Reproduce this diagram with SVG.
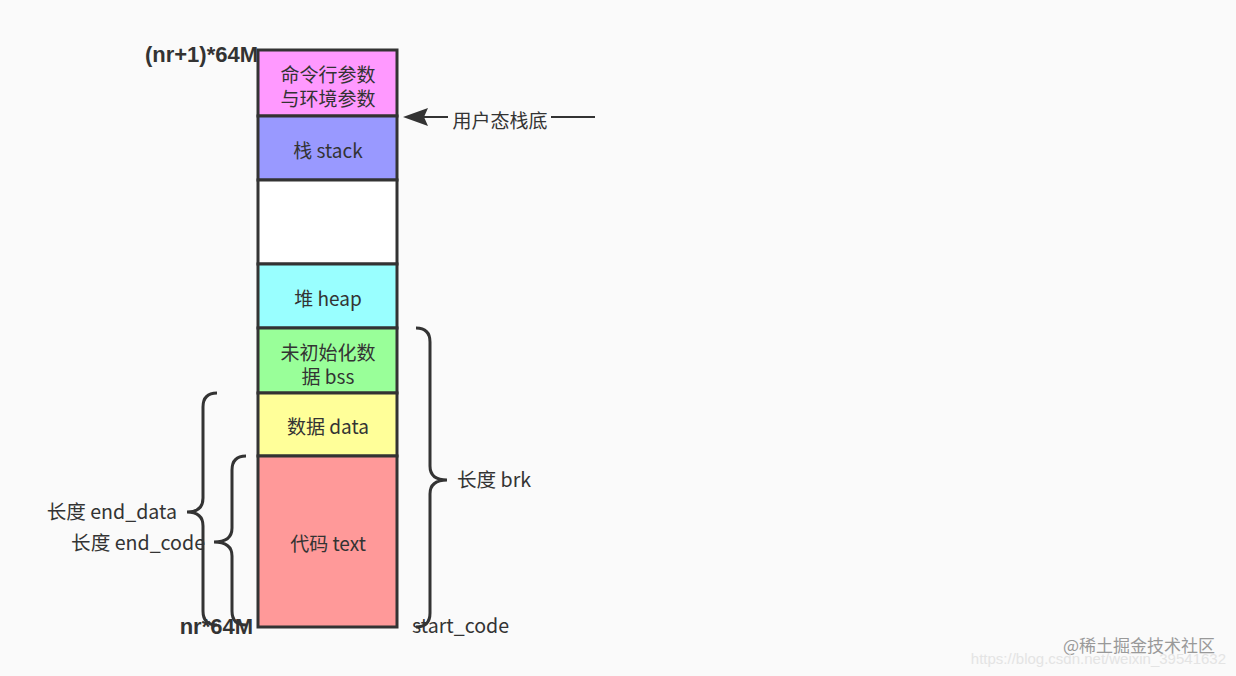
<svg xmlns="http://www.w3.org/2000/svg" width="1236" height="676" viewBox="0 0 1236 676">
<style>
.t{font-family:"Noto Sans CJK SC","Liberation Sans",sans-serif;font-size:19px;fill:#333;}
.s{font-size:19.6px;}
.c{text-anchor:middle;dominant-baseline:central;}
.b{font-family:"Liberation Sans",sans-serif;font-weight:bold;font-size:22px;fill:#333;}
.box{stroke:#333;stroke-width:3;}
.brace{fill:none;stroke:#333;stroke-width:3;}
</style>
<rect width="1236" height="676" fill="#fafafa"/>
<g id="connectors">
<line x1="595" y1="117" x2="424" y2="117" stroke="#333" stroke-width="2"/>
<path d="M403,117 L428,108 L424,117 L428,126 Z" fill="#333"/>
<rect x="448" y="106" width="103" height="24" fill="#fafafa"/>
<text class="t c" x="500" y="119">用户态栈底</text>
<path class="brace" d="M217,393 Q203,393 203,407 L203,498 Q203,512 187,512 Q203,512 203,526 L203,611 Q203,625 217,625"/>
<path class="brace" d="M246,456 Q232,456 232,470 L232,528 Q232,542 214,542 Q232,542 232,556 L232,611 Q232,625 246,625"/>
<path class="brace" d="M416,328 Q430,328 430,342 L430,466 Q430,480 447,480 Q430,480 430,494 L430,613 Q430,627 416,627"/>
</g>
<g id="n-args"><rect class="box" x="258" y="50" width="139" height="66" fill="#ff99ff"/><text class="t c" x="328" y="73">命令行参数</text><text class="t c" x="328" y="97">与环境参数</text></g>
<g id="n-stack"><rect class="box" x="258" y="116" width="139" height="64" fill="#9999ff"/><text class="t c" x="328" y="149">栈 stack</text></g>
<g id="n-free"><rect class="box" x="258" y="180" width="139" height="84" fill="#ffffff"/></g>
<g id="n-heap"><rect class="box" x="258" y="264" width="139" height="64" fill="#99ffff"/><text class="t c" x="328" y="297">堆 heap</text></g>
<g id="n-bss"><rect class="box" x="258" y="328" width="139" height="65" fill="#99ff99"/><text class="t c" x="328" y="351">未初始化数</text><text class="t c" x="328" y="375">据 bss</text></g>
<g id="n-data"><rect class="box" x="258" y="393" width="139" height="63" fill="#ffff99"/><text class="t c" x="328" y="425">数据 data</text></g>
<g id="n-text"><rect class="box" x="258" y="456" width="139" height="171" fill="#ff9999"/><text class="t c" x="328" y="542">代码 text</text></g>
<g id="labels">
<text class="b" x="258" y="62" text-anchor="end">(nr+1)*64M</text>
<text class="b" x="253" y="634" text-anchor="end">nr*64M</text>
<text class="t s" x="412" y="633">start_code</text>
<text class="t s" x="177" y="519" text-anchor="end">长度 end_data</text>
<text class="t s" x="205" y="550" text-anchor="end">长度 end_code</text>
<text class="t s" x="457" y="487">长度 brk</text>
<text x="1215" y="652" text-anchor="end" font-family="Noto Sans CJK SC, sans-serif" font-size="17" fill="#999">@稀土掘金技术社区</text>
<text x="1226" y="664" text-anchor="end" font-family="Liberation Sans, sans-serif" font-size="15" fill="#e4e4e4">https://blog.csdn.net/weixin_39541632</text>
</g>
</svg>
